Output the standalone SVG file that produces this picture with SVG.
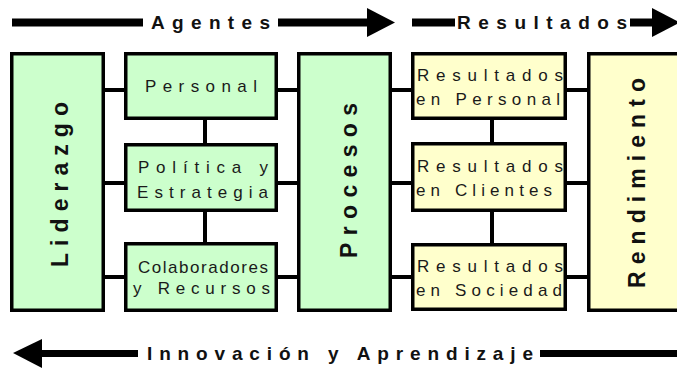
<svg xmlns="http://www.w3.org/2000/svg" width="677" height="370" viewBox="0 0 677 370">
<defs>
<style>
.g{fill:#ccffcc;stroke:#000;stroke-width:3.5}
.y{fill:#ffffcc;stroke:#000;stroke-width:3.5}
.c{stroke:#000;stroke-width:4;fill:none}
.bar{stroke:#000;stroke-width:8;fill:none}
.t{font-family:"Liberation Sans",Arial,sans-serif;font-size:17px;fill:#1a1a1a}
.v{font-family:"Liberation Sans",Arial,sans-serif;font-size:23px;font-weight:bold;fill:#111}
.h{font-family:"Liberation Sans",Arial,sans-serif;font-size:19px;font-weight:bold;fill:#111}
</style>
</defs>
<rect width="677" height="370" fill="#fff"/>
<g id="header">
<line class="bar" x1="12" y1="22.5" x2="143" y2="22.5"/>
<text class="h" x="151" y="29" textLength="119" lengthAdjust="spacing">Agentes</text>
<line class="bar" x1="278" y1="22.5" x2="369" y2="22.5"/>
<polygon points="367,8 395,22.5 367,37" fill="#000"/>
<line class="bar" x1="412" y1="22.5" x2="455" y2="22.5"/>
<text class="h" x="457" y="29" textLength="170" lengthAdjust="spacing">Resultados</text>
<line class="bar" x1="630" y1="22.5" x2="654" y2="22.5"/>
<polygon points="652,8 680,22.5 652,37" fill="#000"/>
</g>
<g id="footer">
<polygon points="13,353 42,339 42,368" fill="#000"/>
<line class="bar" x1="40" y1="353.5" x2="138" y2="353.5" style="stroke-width:7"/>
<text class="h" x="147" y="360" textLength="386" lengthAdjust="spacing">Innovación y Aprendizaje</text>
<line class="bar" x1="540" y1="353.5" x2="677" y2="353.5" style="stroke-width:7"/>
</g>
<g id="connectors">
<line class="c" x1="105" y1="90" x2="124" y2="90"/>
<line class="c" x1="105" y1="183" x2="124" y2="183"/>
<line class="c" x1="105" y1="277" x2="124" y2="277"/>
<line class="c" x1="278" y1="90" x2="297" y2="90"/>
<line class="c" x1="278" y1="183" x2="297" y2="183"/>
<line class="c" x1="278" y1="277" x2="297" y2="277"/>
<line class="c" x1="392" y1="90" x2="411" y2="90"/>
<line class="c" x1="392" y1="183" x2="411" y2="183"/>
<line class="c" x1="392" y1="277" x2="411" y2="277"/>
<line class="c" x1="567" y1="90" x2="587" y2="90"/>
<line class="c" x1="567" y1="183" x2="587" y2="183"/>
<line class="c" x1="567" y1="277" x2="587" y2="277"/>
<line class="c" x1="205" y1="119" x2="205" y2="144"/>
<line class="c" x1="205" y1="211" x2="205" y2="243"/>
<line class="c" x1="492" y1="119" x2="492" y2="143"/>
<line class="c" x1="492" y1="211" x2="492" y2="244"/>
</g>
<g id="liderazgo">
<rect class="g" x="11.75" y="53.75" width="91.5" height="256.5"/>
<text class="v" transform="translate(68,184.5) rotate(-90)" x="-82.5" y="0" textLength="165" lengthAdjust="spacing">Liderazgo</text>
</g>
<g id="personal">
<rect class="g" x="125.75" y="53.75" width="150.5" height="64.5"/>
<text class="t" x="145" y="92" textLength="112" lengthAdjust="spacing">Personal</text>
</g>
<g id="politica">
<rect class="g" x="125.75" y="144.75" width="150.5" height="65.5"/>
<text class="t" x="138" y="173" textLength="130" lengthAdjust="spacing">Política y</text>
<text class="t" x="137" y="198" textLength="131" lengthAdjust="spacing">Estrategia</text>
</g>
<g id="colaboradores">
<rect class="g" x="125.75" y="243.75" width="150.5" height="66.5"/>
<text class="t" x="138" y="273" textLength="130" lengthAdjust="spacing">Colaboradores</text>
<text class="t" x="133" y="294" textLength="137" lengthAdjust="spacing">y Recursos</text>
</g>
<g id="procesos">
<rect class="g" x="298.75" y="53.75" width="91.5" height="256.5"/>
<text class="v" transform="translate(357,180.5) rotate(-90)" x="-77.5" y="0" textLength="155" lengthAdjust="spacing">Procesos</text>
</g>
<g id="res-personal">
<rect class="y" x="412.75" y="53.75" width="152.5" height="64.5"/>
<text class="t" x="417" y="81" textLength="146" lengthAdjust="spacing">Resultados</text>
<text class="t" x="416" y="105" textLength="144" lengthAdjust="spacing">en Personal</text>
</g>
<g id="res-clientes">
<rect class="y" x="412.75" y="143.75" width="152.5" height="66.5"/>
<text class="t" x="417" y="172" textLength="146" lengthAdjust="spacing">Resultados</text>
<text class="t" x="416" y="196" textLength="136" lengthAdjust="spacing">en Clientes</text>
</g>
<g id="res-sociedad">
<rect class="y" x="412.75" y="244.75" width="152.5" height="64.5"/>
<text class="t" x="417" y="272" textLength="146" lengthAdjust="spacing">Resultados</text>
<text class="t" x="416" y="296" textLength="146" lengthAdjust="spacing">en Sociedad</text>
</g>
<g id="rendimiento">
<rect class="y" x="588.75" y="53.75" width="100" height="256.5"/>
<text class="v" transform="translate(645,183) rotate(-90)" x="-105" y="0" textLength="210" lengthAdjust="spacing">Rendimiento</text>
</g>
</svg>
